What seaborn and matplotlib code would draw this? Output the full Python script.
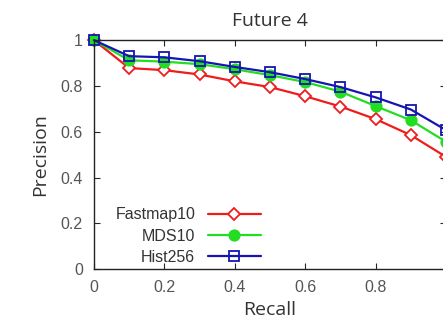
import matplotlib
matplotlib.use("Agg")
import matplotlib.pyplot as plt
import pandas as pd
import seaborn as sns

recall = [0.0, 0.1, 0.2, 0.3, 0.4, 0.5, 0.6, 0.7, 0.8, 0.9, 1.0]
fastmap10 = [1.0, 0.878, 0.869, 0.85, 0.82, 0.795, 0.755, 0.71, 0.655, 0.585, 0.49]
mds10 = [1.0, 0.912, 0.906, 0.895, 0.873, 0.847, 0.817, 0.775, 0.712, 0.65, 0.556]
hist256 = [1.0, 0.93, 0.925, 0.908, 0.883, 0.86, 0.83, 0.795, 0.75, 0.697, 0.607]

series_names = ["Fastmap10", "MDS10", "Hist256"]
series_values = [fastmap10, mds10, hist256]
colors = ["#ee1c1c", "#22dd22", "#1515b0"]
markers = ["D", "o", "s"]
fills = ["white", "#22dd22", "none"]

rows = []
for name, vals in zip(series_names, series_values):
    for r, p in zip(recall, vals):
        rows.append({"Recall": r, "Precision": p, "method": name})
df = pd.DataFrame(rows)

sns.set_style("ticks")
plt.rcParams["font.family"] = ["Liberation Sans", "DejaVu Sans"]

fig = plt.figure(figsize=(4.43, 3.29), dpi=100)
ax = fig.add_axes([0.212, 0.182, 0.795, 0.696])

for name, c, m, f in zip(series_names, colors, markers, fills):
    sub = df[df["method"] == name]
    sns.lineplot(data=sub, x="Recall", y="Precision", ax=ax, color=c, marker=m,
                 markersize=7.5 if m != "D" else 6.5, markerfacecolor=f,
                 markeredgecolor=c, markeredgewidth=1.3, linewidth=1.6,
                 label=name, clip_on=False)

ax.set_xlim(0, 1)
ax.set_ylim(0, 1)
# the right edge of the original is cropped, so the last x label is not shown
ax.set_xticks([0, 0.2, 0.4, 0.6, 0.8, 1.0])
ax.set_xticklabels(["0", "0.2", "0.4", "0.6", "0.8", ""])
ax.set_yticks([0, 0.2, 0.4, 0.6, 0.8, 1.0])
ax.set_yticklabels(["0", "0.2", "0.4", "0.6", "0.8", "1"])
ax.tick_params(direction="in", top=True, right=True, length=4, width=0.8,
               labelsize=11.5, labelcolor="#555555", pad=8)
for s in ax.spines.values():
    s.set_linewidth(1.0)
    s.set_color("#222222")

ax.set_title("Future 4", fontsize=14, family=["Open Sans", "DejaVu Sans"], color="#333333", pad=10)
ax.set_xlabel("Recall", fontsize=14, family=["Open Sans", "DejaVu Sans"], color="#333333", labelpad=4)
ax.set_ylabel("Precision", fontsize=14, family=["Open Sans", "DejaVu Sans"], color="#333333", labelpad=8)

leg = ax.legend(loc="lower left", bbox_to_anchor=(0.02, -0.045), frameon=False, markerfirst=False,
                fontsize=11.5, handlelength=3.3, handletextpad=0.8, labelspacing=0.4)
for t in leg.get_texts():
    t.set_color("#333333")

fig.savefig("out.png", dpi=100)
